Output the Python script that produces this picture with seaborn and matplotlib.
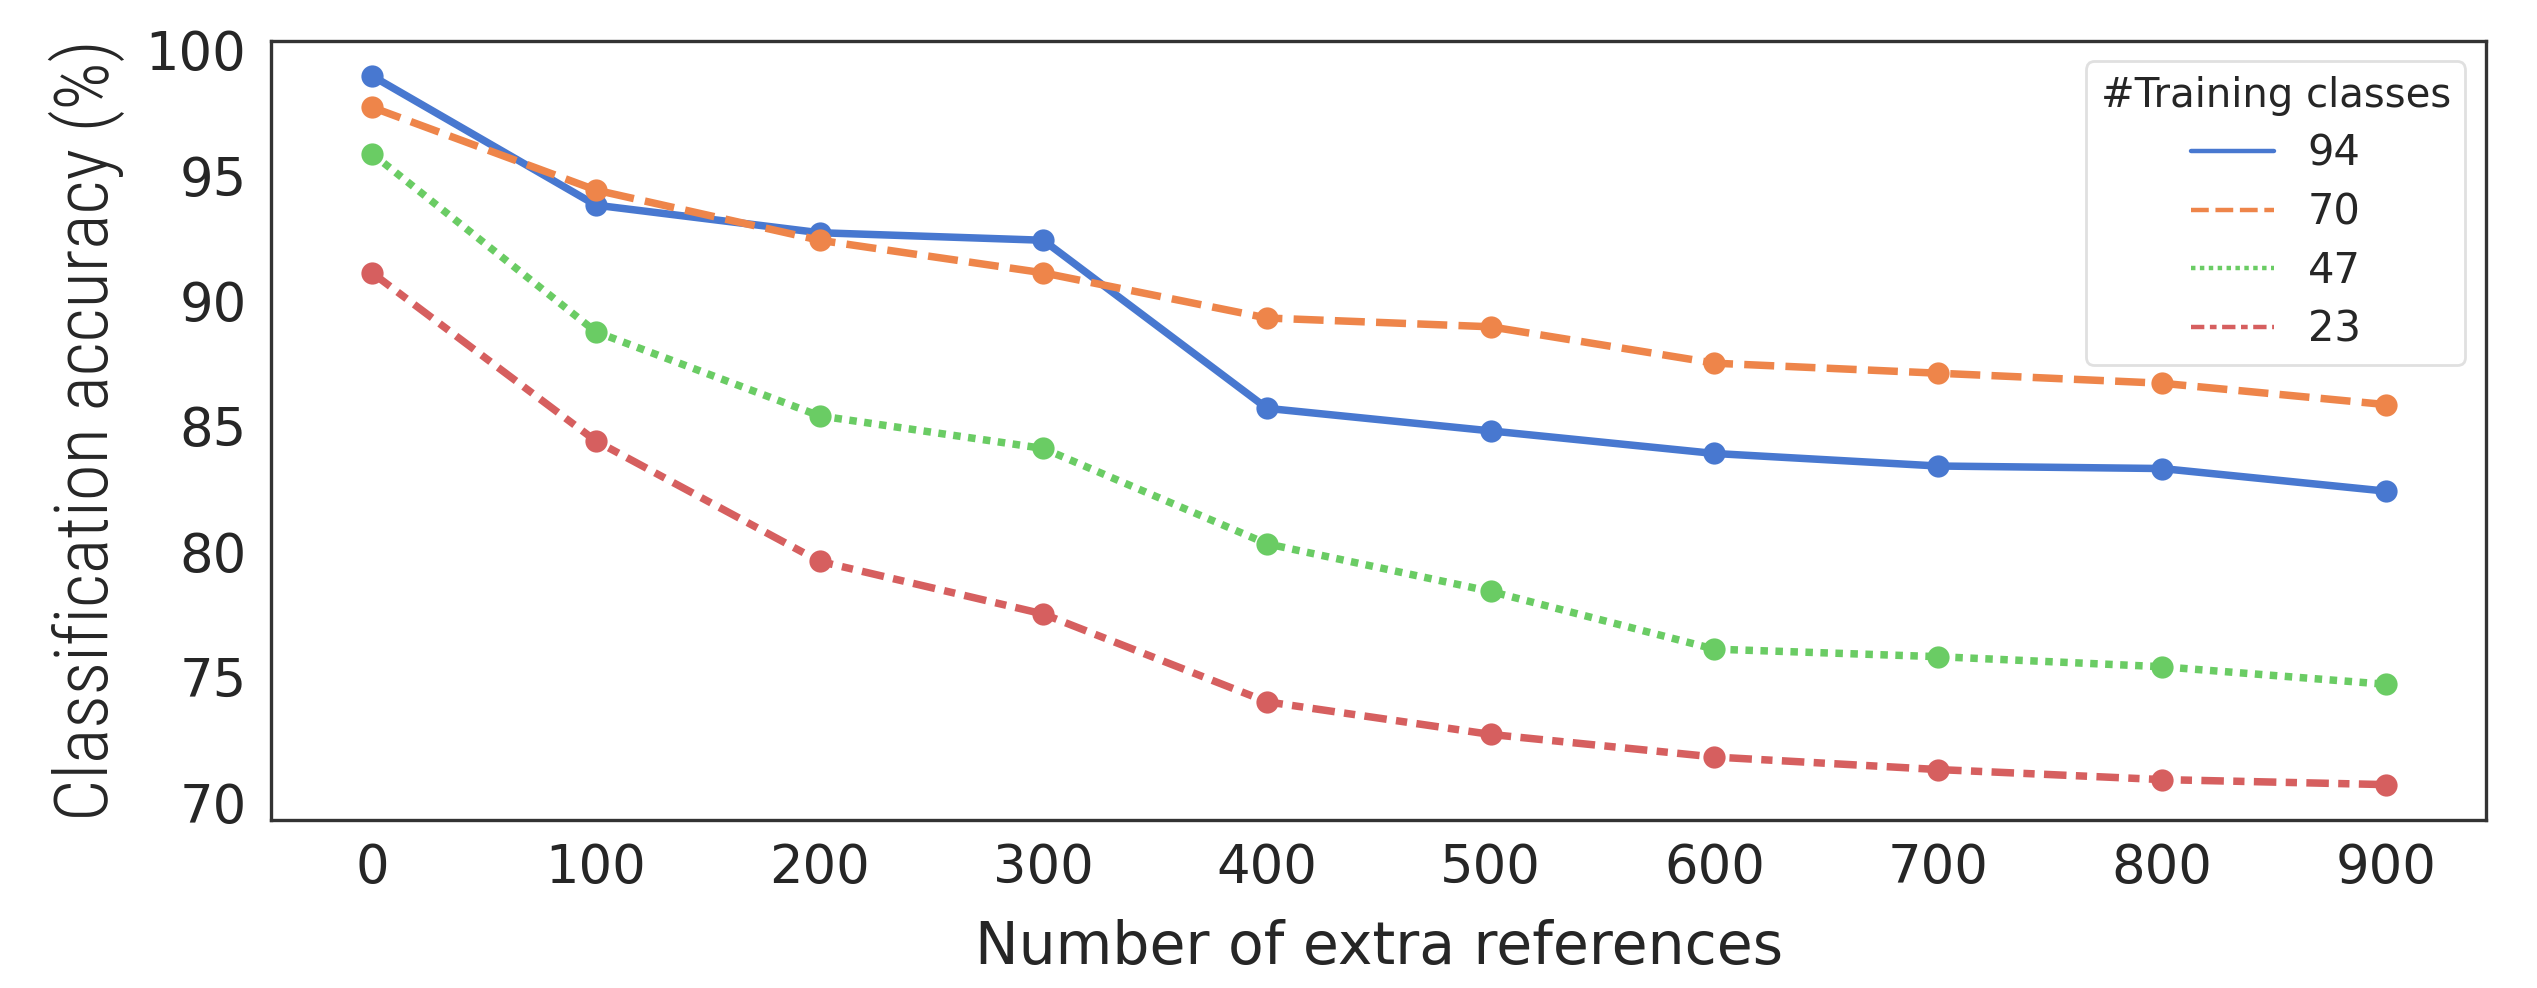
import matplotlib
matplotlib.use("Agg")
import matplotlib.pyplot as plt
from matplotlib.lines import Line2D
import seaborn as sns
import pandas as pd

x_refs = [0, 100, 200, 300, 400, 500, 600, 700, 800, 900]
acc_94 = [98.95, 93.8, 92.7, 92.4, 85.7, 84.8, 83.9, 83.4, 83.3, 82.4]
acc_70 = [97.7, 94.4, 92.4, 91.1, 89.3, 88.95, 87.5, 87.1, 86.7, 85.85]
acc_47 = [95.85, 88.75, 85.4, 84.1, 80.3, 78.4, 76.1, 75.8, 75.4, 74.7]
acc_23 = [91.1, 84.4, 79.6, 77.5, 74.0, 72.7, 71.8, 71.3, 70.9, 70.7]
classes = ["94", "70", "47", "23"]
series = [acc_94, acc_70, acc_47, acc_23]

rows = []
for c, vals in zip(classes, series):
    for xv, yv in zip(x_refs, vals):
        rows.append({"refs": xv, "acc": yv, "classes": c})
df = pd.DataFrame(rows)

sns.set_theme(style="white")
plt.rcParams["font.family"] = ["DejaVu Sans"]

fig = plt.figure(figsize=(12.685, 4.94), dpi=200)
ax = fig.add_axes([0.107, 0.170, 0.873, 0.789])

palette = sns.color_palette("muted", 4)
dashes = ["", (4, 1.5), (1, 1), (3, 1.25, 1.5, 1.25)]
sns.lineplot(data=df, x="refs", y="acc", hue="classes", style="classes",
             hue_order=classes, style_order=classes, palette=palette,
             dashes=dashes, marker="o", markersize=8, markeredgewidth=0,
             linewidth=2.7, legend=False, ax=ax)

ax.set_xticks(x_refs)
ax.set_xlim(-45, 945)
ax.set_yticks([70, 75, 80, 85, 90, 95, 100])
ax.tick_params(axis="both", labelsize=19)
ax.tick_params(axis="y", pad=3)
ax.tick_params(axis="x", pad=2)
for s in ax.spines.values():
    s.set_color(".2")
    s.set_linewidth(1.2)

ax.set_xlabel("Number of extra references", fontsize=21, labelpad=9)
ax.set_ylabel("Classification accuracy (%)", fontsize=27, fontweight="light",
              family=["Roboto Condensed", "Liberation Sans Narrow", "DejaVu Sans"])
ax.yaxis.set_label_coords(-0.066, 0.5)

handles = []
for i in range(4):
    h = Line2D([0], [0], color=palette[i], lw=1.6)
    if dashes[i]:
        h.set_linestyle("--")
        h.set_dashes(dashes[i])
    handles.append(h)
leg = ax.legend(handles, classes, title="#Training classes", loc="upper right",
                fontsize=15, title_fontsize=14.5, frameon=True, labelspacing=0.4,
                borderpad=0.35)
leg.get_frame().set_edgecolor("0.85")

fig.savefig("out.png", dpi=200)
